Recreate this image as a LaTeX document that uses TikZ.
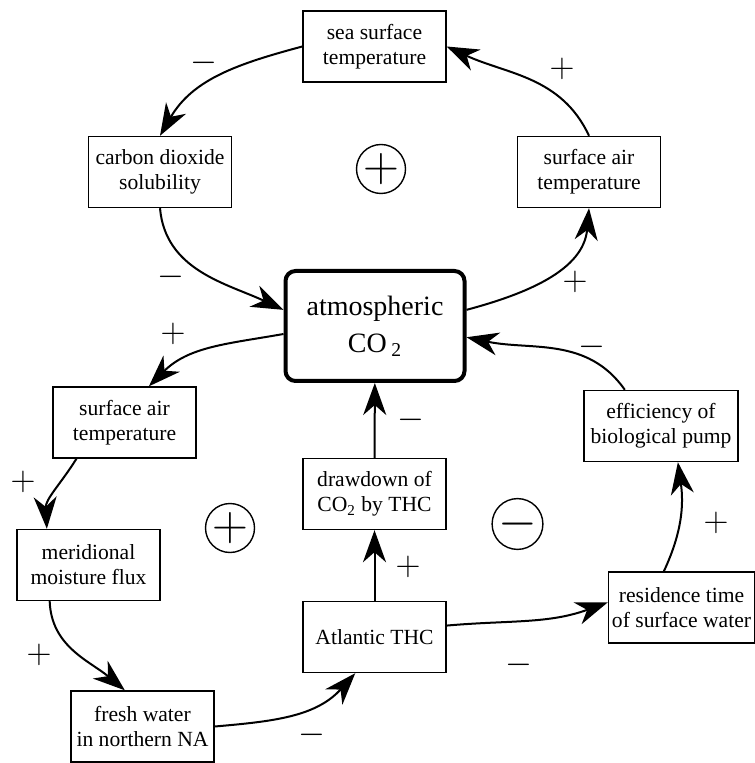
\documentclass[tikz,border=0pt]{standalone}
\usepackage{fontspec}
\setmainfont{Liberation Serif}
\usetikzlibrary{arrows.meta}
\tikzset{box/.style={rectangle,draw,line width=0.7pt,minimum width=71.5pt,
minimum height=35.5pt,inner sep=1pt,align=center,
font=\fontsize{10.8}{12.5}\selectfont},
co2box/.style={box,line width=2pt,rounded corners=5pt,minimum width=89.5pt,
minimum height=55pt,font=\fontsize{14}{18.5}\selectfont},
sign/.style={inner sep=0pt,font=\fontsize{19}{19}\selectfont},
loopsign/.style={circle,draw,line width=0.7pt,minimum size=24.5pt,inner sep=0pt,
font=\fontsize{26}{26}\selectfont},
link/.style={line width=1pt},
>={Stealth[length=16pt,width=11.5pt,inset=5pt]}}

\begin{document}
\begin{tikzpicture}[x=0.5pt,y=-0.5pt]
  \useasboundingbox (0,0) rectangle (754,763);
  % upper loop
  \node [box] (sst) at (374.5,46.5) {sea surface\\temperature};
  \node [box] (solub) at (160,172) {carbon dioxide\\solubility};
  \node [box] (airtop) at (589,172) {surface air\\temperature};
  \node [loopsign] (loopA) at (381,169) {$+$};
  \node [co2box] (atmco) at (375,326) {atmospheric\\CO\,\textsubscript{2}};
  % lower loops
  \node [box] (airleft) at (124.5,422.5) {surface air\\temperature};
  \node [box] (merid) at (88.5,565) {meridional\\moisture flux};
  \node [box] (fresh) at (142.5,726.5) {fresh water\\in northern NA};
  \node [box] (thc) at (374.5,637) {Atlantic THC};
  \node [box] (drawdn) at (374.5,494) {drawdown of\\CO\textsubscript{2} by THC};
  \node [box,minimum width=77pt] (effic) at (661,426) {efficiency of\\biological pump};
  \node [box,minimum width=73pt] (resid) at (681.5,607.5) {residence time\\of surface water};
  \node [loopsign] (loopB) at (230,528) {$+$};
  \node [loopsign] (loopC) at (517.5,524) {$-$};

  \draw [link,->] (sst.west) to[out=195,in=60] (solub.north);
  \draw [link,->] (airtop.north) to[out=115,in=-25] (sst.east);
  \draw [link,->] (solub.south) to[out=-85,in=155] (atmco.170);
  \draw [link,->] (atmco.10) to[out=15,in=-95] (airtop.south);
  \draw [link,->] (atmco.185) to[out=190,in=45] (airleft.56);
  \draw [link,->] (effic.135) to[out=125,in=-12] (atmco.-7);
  \draw [link,->] (drawdn) -- (atmco);
  \draw [link,->] (thc) -- (drawdn);
  \draw [link,->] (airleft.217) to[out=-122,in=93] (merid.139);
  \draw [link,->] (merid.223) to[out=-88,in=140] (fresh.116);
  \draw [link,->] (fresh.east) to[out=5,in=-132] (thc.242);
  \draw [link,->] (thc.9) to[out=5,in=200] (resid.176);
  \draw [link,->] (resid.116) to[out=65,in=-82] (effic.-65);

  \node [sign] (s1) at (204,63) {$-$};
  \node [sign] (s2) at (562,69) {$+$};
  \node [sign] (s3) at (171,277) {$-$};
  \node [sign] (s4) at (575,282) {$+$};
  \node [sign] (s5) at (173,334) {$+$};
  \node [sign] (s6) at (592,347) {$-$};
  \node [sign] (s7) at (411,420) {$-$};
  \node [sign] (s8) at (23,482) {$+$};
  \node [sign] (s9) at (408,567) {$+$};
  \node [sign] (s10) at (716,523) {$+$};
  \node [sign] (s11) at (39,655) {$+$};
  \node [sign] (s12) at (519,665) {$-$};
  \node [sign] (s13) at (312,735) {$-$};
\end{tikzpicture}
\end{document}
